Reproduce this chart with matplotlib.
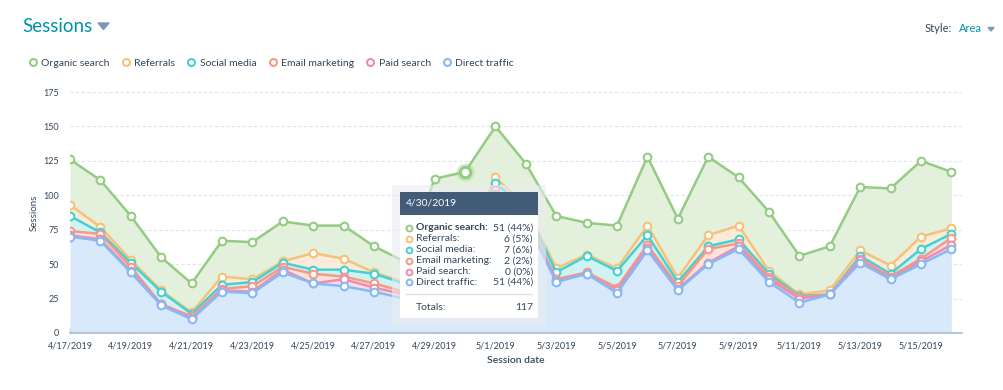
import matplotlib
matplotlib.use("Agg")
import matplotlib.pyplot as plt
import numpy as np
import pandas as pd
from matplotlib.lines import Line2D
from matplotlib.patches import Rectangle, Polygon

plt.rcParams['font.family'] = ['Lato', 'DejaVu Sans']

dates = pd.date_range('2019-04-17', periods=30)
labels = [f"{d.month}/{d.day}/{d.year}" for d in dates]

# sessions per source and day (stacked bottom -> top)
direct = [70, 67, 44, 20, 10, 30, 29, 44, 36, 34, 30, 25, 50, 51, 100,
          82, 37, 43, 29, 60, 31, 50, 61, 37, 22, 28, 51, 39, 50, 61]
paid = [1, 1, 1, 1, 1, 1, 1, 2, 0, 5, 3, 3, 0, 0, 1,
        1, 1, 0, 2, 2, 1, 1, 2, 2, 3, 0, 2, 1, 2, 3]
email = [3, 4, 3, 0, 1, 1, 4, 2, 7, 2, 3, 2, 2, 2, 3,
         2, 1, 1, 2, 2, 2, 10, 2, 2, 1, 0, 1, 1, 2, 5]
social = [11, 1, 3, 9, 2, 3, 3, 3, 3, 5, 7, 6, 6, 7, 5,
          5, 5, 12, 12, 7, 3, 2, 3, 2, 1, 0, 2, 2, 7, 3]
referrals = [8, 4, 2, 1, 1, 6, 2, 1, 12, 8, 1, 1, 5, 6, 4,
             2, 3, 1, 2, 7, 3, 8, 10, 2, 1, 3, 4, 6, 9, 4]
organic = [33, 34, 32, 24, 21, 26, 27, 29, 20, 24, 19, 15, 49, 51, 37,
           31, 38, 23, 31, 50, 43, 57, 35, 43, 28, 32, 46, 56, 55, 41]

names = ['Direct traffic', 'Paid search', 'Email marketing',
         'Social media', 'Referrals', 'Organic search']
series = [direct, paid, email, social, referrals, organic]
line_colors = ['#86b9f5', '#ec8fae', '#f59a85', '#45d1d4', '#f5c27a', '#93cc82']
fill_colors = ['#d8e9fc', '#fbdde7', '#fde2dc', '#cff3f2', '#fcebd8', '#e3f1dc']

hover = 13  # 4/30/2019
text_col = '#33475b'

W, H = 1004, 390
def fx(x):
    return x / W
def fy(y):
    return 1 - y / H

fig = plt.figure(figsize=(W / 100, H / 100), dpi=100)
ax = fig.add_axes([fx(70), 57 / H, 892 / W, 241 / H])

x = np.arange(len(labels))
cum = np.cumsum(np.array(series), axis=0)
prev = np.zeros(len(x))
for i in range(len(series)):
    ax.fill_between(x, prev, cum[i], color=fill_colors[i], lw=0, zorder=1)
    prev = cum[i]
for i in reversed(range(len(series))):
    ax.plot(x, cum[i], color=line_colors[i], lw=1.8, marker='o', ms=5.5,
            mfc='white', mec=line_colors[i], mew=1.5, zorder=3 + (5 - i))

# hovered point
ax.plot(hover, cum[5][hover], 'o', ms=13, color='#93cc82', alpha=0.35, mec='none', zorder=10)
ax.plot(hover, cum[5][hover], 'o', ms=7.5, mfc='white', mec='#93cc82', mew=2.2, zorder=11)

ax.set_xlim(0, 29.35)
ax.set_ylim(0, 175)
ax.set_yticks(range(0, 176, 25))
ax.set_xticks(x[::2])
ax.set_xticklabels(labels[::2])
ax.tick_params(axis='y', length=0, pad=8, labelsize=6.5, labelcolor=text_col)
ax.tick_params(axis='x', direction='in', length=3.5, width=1, color='#a9bdd1',
               pad=6, labelsize=6.5, labelcolor=text_col)
for s in ['top', 'right', 'left']:
    ax.spines[s].set_visible(False)
ax.spines['bottom'].set_color('#a9bdd1')
ax.spines['bottom'].set_linewidth(1.2)
ax.grid(axis='y', color='#dfe3eb', ls=(0, (3, 2)), lw=0.8, zorder=0)
ax.set_axisbelow(True)
ax.set_ylabel('Sessions', fontsize=7, color=text_col, labelpad=3)
ax.set_xlabel('Session date', fontsize=7.5, color=text_col, labelpad=4, fontweight='semibold')

# header
fig.text(fx(22), fy(26), 'Sessions', fontsize=13.5, color='#0091ae', va='center')
fig.add_artist(Polygon([[fx(98), fy(23)], [fx(109), fy(23)], [fx(103.5), fy(29.5)]],
                       closed=True, color='#7c98b6', transform=fig.transFigure))
fig.text(fx(925), fy(28.5), 'Style:', fontsize=8, color=text_col, va='center')
fig.text(fx(959), fy(28.5), 'Area', fontsize=8, color='#0091ae', va='center')
fig.add_artist(Polygon([[fx(988), fy(27.5)], [fx(994), fy(27.5)], [fx(991), fy(31)]],
                       closed=True, color='#7c98b6', transform=fig.transFigure))

# legend
order = list(reversed(range(len(series))))
handles = [Line2D([], [], ls='none', marker='o', ms=5, mfc='white',
                  mec=line_colors[i], mew=1.5) for i in order]
fig.legend(handles, [names[i] for i in order], loc='center left',
           bbox_to_anchor=(fx(29.5), fy(63)), ncol=6, frameon=False,
           handlelength=0.7, handletextpad=0.45, columnspacing=1.2,
           fontsize=7.5, labelcolor=text_col, borderpad=0, borderaxespad=0)

# tooltip
tf = fig.transFigure
def rect(x0, y0, x1, y1, **kw):
    fig.add_artist(Rectangle((fx(x0), fy(y1)), fx(x1) - fx(x0), fy(y0) - fy(y1),
                             transform=tf, **kw))
rect(392, 185, 546, 326, color='#e9ecf0', alpha=0.6, lw=0, zorder=20)
rect(400, 192, 538, 318, color='white', lw=0, zorder=21)
rect(400, 192, 538, 215, color='#425b76', lw=0, zorder=22)
fig.text(fx(406), fy(203.5), labels[hover], fontsize=7.5, color='white', va='center', zorder=23)

total = int(cum[5][hover])
row_y = 228
for i in order:
    v = series[i][hover]
    fig.add_artist(Line2D([fx(409)], [fy(row_y)], ls='none', marker='o', ms=4.2,
                          mfc='white', mec=line_colors[i], mew=1.4, transform=tf, zorder=23))
    bold = i == 5
    fig.text(fx(416), fy(row_y), names[i] + ':', fontsize=7.5, color=text_col, va='center',
             fontweight='bold' if bold else 'normal', zorder=23)
    fig.text(fx(533), fy(row_y), f"{v} ({round(100 * v / total)}%)", fontsize=7.5,
             color=text_col, va='center', ha='right', zorder=23)
    row_y += 10.9
fig.add_artist(Line2D([fx(406), fx(532)], [fy(294), fy(294)], color='#dfe3eb', lw=1,
                      transform=tf, zorder=23))
fig.text(fx(416), fy(307), 'Totals:', fontsize=7.5, color=text_col, va='center', zorder=23)
fig.text(fx(533), fy(307), str(total), fontsize=7.5, color=text_col, va='center',
         ha='right', zorder=23)

fig.savefig('out.png', dpi=100)
